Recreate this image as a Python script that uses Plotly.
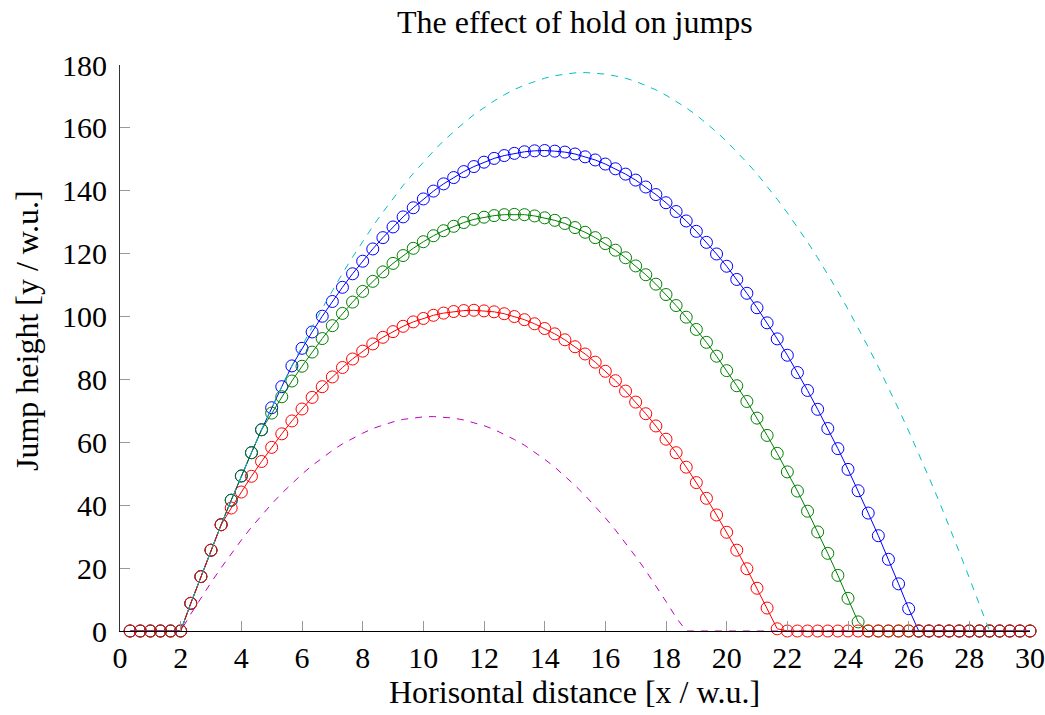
import plotly.graph_objects as go

# sample grid: x = k/3, k = 1..90
x_vals = [round(k / 3, 4) for k in range(1, 91)]

hold_full = [0.0, 0.0, 0.0, 0.0, 0.0, 0.0,
             8.8, 17.3, 25.7, 33.8, 41.6, 49.3, 56.7, 64.0, 71.0, 77.7,
             84.3, 90.6, 96.7, 102.6, 108.3, 113.7, 118.9, 123.9, 128.7, 133.2,
             137.6, 141.7, 145.5, 149.2, 152.6, 155.9, 158.9, 161.6, 164.2, 166.5,
             168.6, 170.5, 172.2, 173.6, 174.8, 175.8, 176.6, 177.1, 177.5, 177.6,
             177.4, 177.1, 176.5, 175.8, 174.8, 173.5, 172.1, 170.4, 168.5, 166.4,
             164.1, 161.5, 158.7, 155.7, 152.5, 149.0, 145.4, 141.5, 137.3, 133.0,
             128.4, 123.7, 118.7, 113.4, 108.0, 102.3, 96.4, 90.3, 84.0, 77.4,
             70.6, 63.6, 56.4, 48.9, 41.3, 33.4, 25.2, 16.9, 8.3,
             0.0, 0.0, 0.0, 0.0, 0.0]

no_hold = [0.0, 0.0, 0.0, 0.0, 0.0, 0.0,
           5.4, 10.5, 15.4, 20.1, 24.6, 28.9, 33.0, 36.8, 40.4, 43.8,
           46.9, 49.9, 52.6, 55.1, 57.4, 59.5, 61.3, 62.9, 64.4, 65.5,
           66.5, 67.3, 67.8, 68.1, 68.2, 68.0, 67.7, 67.1, 66.3, 65.3,
           64.1, 62.6, 60.9, 59.1, 56.9, 54.6, 52.1, 49.3, 46.3, 43.1,
           39.6, 36.0, 32.1, 28.0, 23.7, 19.2, 14.4, 9.4, 4.3,
           0.0, 0.0, 0.0, 0.0, 0.0, 0.0, 0.0, 0.0, 0.0, 0.0,
           0.0, 0.0, 0.0, 0.0, 0.0, 0.0, 0.0, 0.0, 0.0, 0.0,
           0.0, 0.0, 0.0, 0.0, 0.0, 0.0, 0.0, 0.0, 0.0, 0.0,
           0.0, 0.0, 0.0, 0.0, 0.0]

hold_short = [0.0, 0.0, 0.0, 0.0, 0.0, 0.0,
              8.8, 17.3, 25.7, 33.8,
              39.1, 44.2, 49.2, 53.9, 58.4, 62.7, 66.8, 70.6, 74.3, 77.7,
              80.8, 83.8, 86.5, 89.0, 91.3, 93.4, 95.2, 96.9, 98.3, 99.4,
              100.4, 101.1, 101.6, 101.9, 102.0, 101.8, 101.5, 100.9, 100.0, 99.0,
              97.7, 96.2, 94.5, 92.6, 90.4, 88.1, 85.5, 82.6, 79.6, 76.3,
              72.8, 69.1, 65.2, 61.0, 56.7, 52.1, 47.2, 42.2, 36.9, 31.4,
              25.7, 19.8, 13.6, 7.3, 0.7,
              0.0, 0.0, 0.0, 0.0, 0.0, 0.0, 0.0, 0.0, 0.0, 0.0,
              0.0, 0.0, 0.0, 0.0, 0.0, 0.0, 0.0, 0.0, 0.0, 0.0,
              0.0, 0.0, 0.0, 0.0, 0.0]

hold_medium = [0.0, 0.0, 0.0, 0.0, 0.0, 0.0,
               8.8, 17.3, 25.7, 33.8, 41.6, 49.3, 56.7, 64.0,
               69.3, 74.5, 79.5, 84.2, 88.7, 93.0,
               97.1, 101.0, 104.6, 108.0, 111.2, 114.2, 116.9, 119.4, 121.7, 123.8,
               125.7, 127.3, 128.7, 129.9, 130.9, 131.6, 132.1, 132.4, 132.5, 132.4,
               132.0, 131.4, 130.6, 129.6, 128.3, 126.8, 125.1, 123.2, 121.1, 118.7,
               116.1, 113.3, 110.3, 107.0, 103.5, 99.8, 95.9, 91.8, 87.4, 82.8,
               78.0, 73.0, 67.7, 62.2, 56.5, 50.6, 44.5, 38.1, 31.5, 24.7,
               17.7, 10.4, 2.9,
               0.0, 0.0, 0.0, 0.0, 0.0, 0.0, 0.0, 0.0, 0.0, 0.0,
               0.0, 0.0, 0.0, 0.0, 0.0, 0.0, 0.0]

hold_long = [0.0, 0.0, 0.0, 0.0, 0.0, 0.0,
             8.8, 17.3, 25.7, 33.8, 41.6, 49.3, 56.7, 64.0, 71.0, 77.7, 84.3,
             89.9, 95.1, 100.1,
             104.8, 109.3, 113.6, 117.6, 121.5, 125.1, 128.5, 131.7, 134.6, 137.4,
             139.9, 142.2, 144.2, 146.1, 147.7, 149.1, 150.3, 151.2, 151.9, 152.4,
             152.7, 152.8, 152.6, 152.3, 151.7, 150.8, 149.8, 148.5, 147.0, 145.3,
             143.4, 141.2, 138.8, 136.2, 133.4, 130.4, 127.1, 123.6, 119.9, 116.0,
             111.8, 107.4, 102.8, 98.0, 92.9, 87.7, 82.2, 76.5, 70.5, 64.4,
             58.0, 51.4, 44.6, 37.5, 30.3, 22.8, 15.0, 7.1,
             0.0, 0.0, 0.0, 0.0, 0.0, 0.0, 0.0, 0.0, 0.0, 0.0, 0.0, 0.0]

x_ticks = list(range(0, 31, 2))
y_ticks = list(range(0, 181, 20))

title_text = "The effect of hold on jumps"
x_title = "Horisontal distance [x / w.u.]"
y_title = "Jump height [y / w.u.]"

FONT = "Liberation Serif"
W, H = 1045, 715
ML, MR, MT, MB = 120, 15, 65, 84
PW, PH = W - ML - MR, H - MT - MB

fig = go.Figure()

marker_series = [
    (hold_long, "#0000ff"),
    (hold_medium, "#008000"),
    (hold_short, "#ff0000"),
]
for ys, col in marker_series:
    fig.add_trace(go.Scatter(
        x=x_vals, y=ys, mode="lines+markers",
        line=dict(color=col, width=1),
        marker=dict(symbol="circle-open", size=12, color=col, line=dict(width=1, color=col)),
        cliponaxis=False, showlegend=False, hoverinfo="skip"))

dashed_series = [
    (hold_full, "#00bfbf"),
    (no_hold, "#bf00bf"),
]
for ys, col in dashed_series:
    fig.add_trace(go.Scatter(
        x=x_vals, y=ys, mode="lines",
        line=dict(color=col, width=1, dash="7px,7px"),
        cliponaxis=False, showlegend=False, hoverinfo="skip"))

def px_x(p):
    return (p - ML) / PW

def px_y(p):
    return (H - MB - p) / PH

fig.update_layout(
    width=W, height=H, autosize=False,
    margin=dict(l=ML, r=MR, t=MT, b=MB, pad=0),
    paper_bgcolor="white", plot_bgcolor="white",
    font=dict(family=FONT, size=30, color="black"),
    xaxis=dict(range=[0, 30], tickvals=x_ticks, ticktext=[str(v) for v in x_ticks],
               ticks="inside", ticklen=10, tickwidth=1, tickcolor="#999999",
               showline=True, linecolor="black", linewidth=1,
               showgrid=False, zeroline=False, automargin=False,
               tickfont=dict(family=FONT, size=30)),
    yaxis=dict(range=[0, 180], tickvals=y_ticks, ticktext=[str(v) for v in y_ticks],
               ticks="inside", ticklen=10, tickwidth=1, tickcolor="#999999",
               showline=True, linecolor="#333333", linewidth=1,
               showgrid=False, zeroline=False, automargin=False,
               ticklabelstandoff=6,
               tickfont=dict(family=FONT, size=30)),
    annotations=[
        dict(text=title_text, xref="paper", yref="paper",
             x=px_x(574.5), y=px_y(22), xanchor="center", yanchor="middle",
             showarrow=False, font=dict(family=FONT, size=32)),
        dict(text=x_title, xref="paper", yref="paper",
             x=px_x(574.5), y=px_y(692), xanchor="center", yanchor="middle",
             showarrow=False, font=dict(family=FONT, size=32)),
        dict(text=y_title, xref="paper", yref="paper",
             x=px_x(27), y=px_y(331), xanchor="center", yanchor="middle",
             textangle=-90, showarrow=False, font=dict(family=FONT, size=32)),
    ],
)

fig.write_html("out.html",
               config={"displayModeBar": False},
               post_script="document.body.style.margin='0';document.body.style.overflow='hidden';")
